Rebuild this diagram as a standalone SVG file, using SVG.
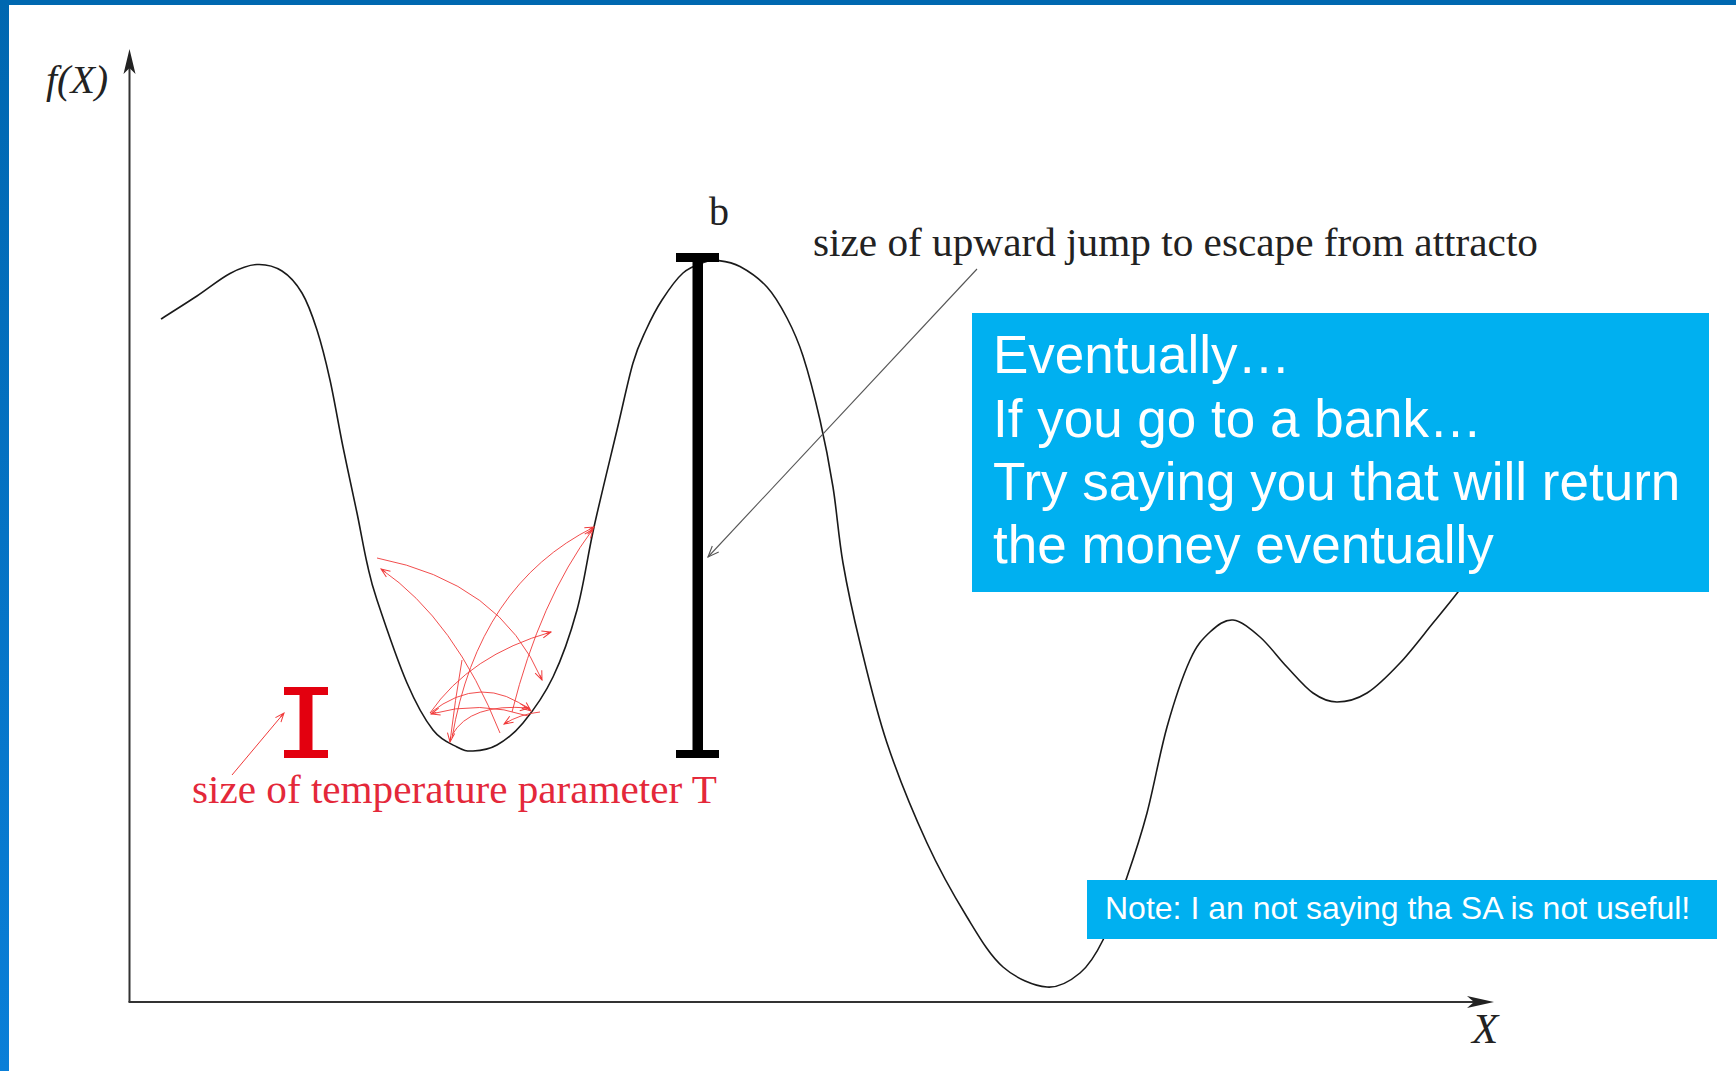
<svg xmlns="http://www.w3.org/2000/svg" width="1736" height="1071" viewBox="0 0 1736 1071">
  <defs>
    <linearGradient id="sidebar" x1="0" y1="0" x2="0" y2="1">
      <stop offset="0" stop-color="#0067b0"/>
      <stop offset="1" stop-color="#0a7fd8"/>
    </linearGradient>
    <marker id="redHead" viewBox="0 0 10 10" refX="10" refY="5" markerWidth="11" markerHeight="9" markerUnits="userSpaceOnUse" orient="auto">
      <path d="M0,1 L10,5 L0,9 M4,5 L10,5" fill="none" stroke="#f03a3a" stroke-width="1.1"/>
    </marker>
    <marker id="grayHead" viewBox="0 0 10 10" refX="10" refY="5" markerWidth="16" markerHeight="11" markerUnits="userSpaceOnUse" orient="auto">
      <path d="M0,1 L10,5 L0,9" fill="none" stroke="#555" stroke-width="1"/>
    </marker>
    <style>
      .serif { font-family: "Liberation Serif", "Times New Roman", serif; }
      .sans { font-family: "Liberation Sans", Arial, sans-serif; }
      .curve { fill: none; stroke: #1a1a1a; stroke-width: 1.6; }
      .walk { fill: none; stroke: #f03a3a; stroke-width: 1; stroke-opacity: 0.9; marker-end: url(#redHead); }
      .axis { stroke: #333; stroke-width: 2; fill: none; }
      .box { fill: #00b0f0; }
      .boxtext { fill: #ffffff; }
    </style>
  </defs>

  <rect x="0" y="0" width="1736" height="1071" fill="#ffffff"/>
  <rect x="0" y="0" width="1736" height="5" fill="#0068b0"/>
  <rect x="0" y="0" width="9" height="1071" fill="url(#sidebar)"/>

  <g id="axes">
    <path class="axis" d="M129.5,1002 L129.5,66"/>
    <polygon points="129.5,49 123.5,74 129.5,68 135.5,74" fill="#222"/>
    <path class="axis" d="M128.5,1002 L1476,1002"/>
    <polygon points="1494,1002 1467,996 1474,1002 1467,1008" fill="#222"/>
    <text class="serif" x="46" y="93" font-size="40" font-style="italic" fill="#222">f(X)</text>
    <text class="serif" x="1472" y="1043" font-size="43" font-style="italic" fill="#222">X</text>
  </g>

  <g id="landscape">
    <path class="curve" d="M161,319 C167,315.17 185.5,303.58 197,296 C208.5,288.42 220,278.75 230,273.5 C240,268.25 248.33,264.92 257,264.5 C265.67,264.08 274.5,266.25 282,271 C289.5,275.75 296.17,283.17 302,293 C307.83,302.83 312.33,315.5 317,330 C321.67,344.5 325.67,360.5 330,380 C334.33,399.5 338.5,424.83 343,447 C347.5,469.17 353,493.67 357,513 C361,532.33 363.67,548.5 367,563 C370.33,577.5 370.33,580 377,600 C383.67,620 397.67,661.33 407,683 C416.33,704.67 424.67,719.33 433,730 C441.33,740.67 450.33,743.5 457,747 C463.67,750.5 466.33,751.33 473,751 C479.67,750.67 488.67,749.67 497,745 C505.33,740.33 513.67,734.33 523,723 C532.33,711.67 544,695.83 553,677 C562,658.17 570.17,635 577,610 C583.83,585 587.33,557 594,527 C600.67,497 610.5,457.33 617,430 C623.5,402.67 628.17,379.67 633,363 C637.83,346.33 641.17,340.5 646,330 C650.83,319.5 655.83,309.5 662,300 C668.17,290.5 675.83,279.33 683,273 C690.17,266.67 699.17,264.08 705,262 C710.83,259.92 712.17,259.75 718,260.5 C723.83,261.25 731.83,262.08 740,266.5 C748.17,270.92 759.17,278.42 767,287 C774.83,295.58 781,306.5 787,318 C793,329.5 797.5,339 803,356 C808.5,373 815,398.17 820,420 C825,441.83 829.17,463.17 833,487 C836.83,510.83 838.5,537 843,563 C847.5,589 852.67,613 860,643 C867.33,673 875.83,709.67 887,743 C898.17,776.33 913.67,814 927,843 C940.33,872 954.33,896.33 967,917 C979.67,937.67 989.67,955.33 1003,967 C1016.33,978.67 1034.17,986 1047,987 C1059.83,988 1070.67,980.83 1080,973 C1089.33,965.17 1095.17,956 1103,940 C1110.83,924 1119.67,898.17 1127,877 C1134.33,855.83 1140.33,838 1147,813 C1153.67,788 1159.83,752.5 1167,727 C1174.17,701.5 1182.83,675.83 1190,660 C1197.17,644.17 1202.83,638.67 1210,632 C1217.17,625.33 1224.67,619.17 1233,620 C1241.33,620.83 1251,629.17 1260,637 C1269,644.83 1278.17,657.67 1287,667 C1295.83,676.33 1304.67,687.17 1313,693 C1321.33,698.83 1328,702 1337,702 C1346,702 1356.5,699.5 1367,693 C1377.5,686.5 1389,674.67 1400,663 C1411,651.33 1423.33,634.83 1433,623 C1442.67,611.17 1450.17,602.17 1458,592 C1465.83,581.83 1476.33,567 1480,562"/>
  </g>

  <g id="escape-bar">
    <rect x="676" y="253" width="43" height="9" fill="#000"/>
    <rect x="692.5" y="258" width="10.5" height="494" fill="#000"/>
    <rect x="676" y="750" width="43" height="8" fill="#000"/>
    <text class="serif" x="709" y="225" font-size="40" fill="#222">b</text>
  </g>

  <g id="escape-label">
    <text class="serif" x="813" y="256" font-size="41" fill="#222" textLength="725" lengthAdjust="spacingAndGlyphs">size of upward jump to escape from attracto</text>
  </g>

  <g id="temperature-bar">
    <rect x="284" y="687" width="44" height="8" fill="#e3000f"/>
    <rect x="299.5" y="690" width="13" height="64" fill="#e3000f"/>
    <rect x="284" y="750" width="44" height="8" fill="#e3000f"/>
  </g>

  <g id="temperature-label">
    <text class="serif" x="192" y="803" font-size="40" fill="#e4283a" textLength="525" lengthAdjust="spacingAndGlyphs">size of temperature parameter T</text>
  </g>

  <g id="connectors">
    <path d="M977,269 L708,557" stroke="#555" stroke-width="1.1" fill="none" marker-end="url(#grayHead)"/>
    <path d="M232,775 L284,713" stroke="#f03a3a" stroke-width="1" fill="none" marker-end="url(#redHead)"/>
    <path class="walk" d="M377,558 Q500,582 542,680"/>
    <path class="walk" d="M500,733 Q455,620 381,569"/>
    <path class="walk" d="M452,738 Q478,585 594,527"/>
    <path class="walk" d="M430,713 Q470,655 551,632"/>
    <path class="walk" d="M512,712 Q540,600 593,529"/>
    <path class="walk" d="M430,713 Q482,672 531,711"/>
    <path class="walk" d="M528,716 Q480,700 431,714"/>
    <path class="walk" d="M462,660 Q455,700 450,742"/>
    <path class="walk" d="M452,735 Q470,703 529,708"/>
    <path class="walk" d="M540,712 Q520,714 504,724"/>
  </g>

  <g id="note-eventually">
    <rect class="box" x="972" y="313" width="737" height="279"/>
    <text class="sans boxtext" x="993" y="373" font-size="53">Eventually…</text>
    <text class="sans boxtext" x="993" y="437" font-size="53">If you go to a bank…</text>
    <text class="sans boxtext" x="993" y="500" font-size="53">Try saying you that will return</text>
    <text class="sans boxtext" x="993" y="563" font-size="53">the money eventually</text>
  </g>

  <g id="note-sa">
    <rect class="box" x="1087" y="880" width="630" height="59"/>
    <text class="sans boxtext" x="1105" y="919" font-size="32">Note: I an not saying tha SA is not useful!</text>
  </g>
</svg>
